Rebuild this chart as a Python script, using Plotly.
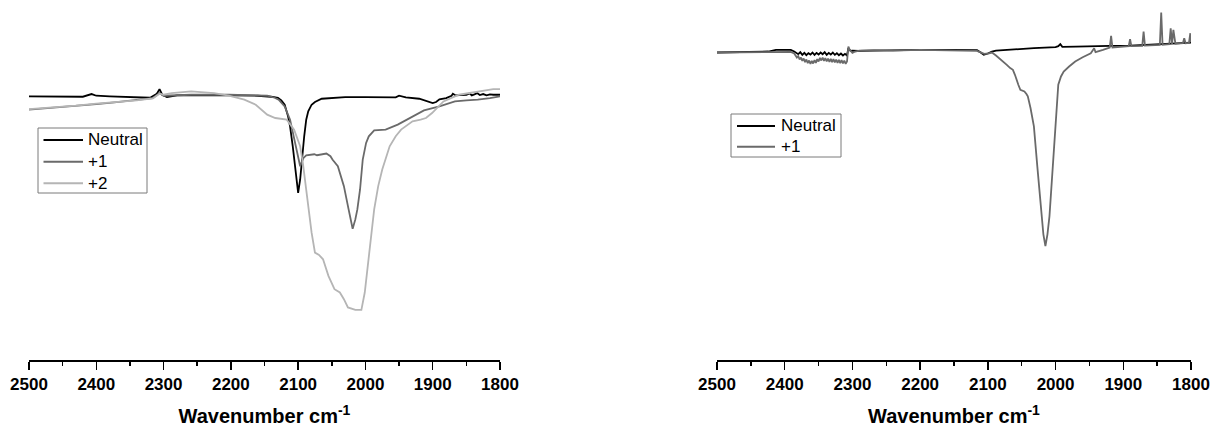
import plotly.graph_objects as go

# ---------- Left panel data (wavenumber cm^-1, transmittance a.u.) ----------
L_neutral_wn = [2500, 2450, 2420, 2407, 2400, 2380, 2340, 2320, 2310, 2306, 2302, 2295, 2280, 2250, 2200,
                2160, 2140, 2130, 2125, 2120, 2115, 2112, 2108, 2104, 2100, 2097, 2094, 2091, 2088, 2085,
                2080, 2075, 2065, 2050, 2030, 2000, 1970, 1955, 1950, 1940, 1920, 1910, 1905, 1900, 1895,
                1890, 1880, 1872, 1870, 1866, 1860, 1850, 1845, 1842, 1838, 1834, 1830, 1825, 1820, 1815,
                1810, 1805, 1800]
L_neutral_t = [100, 100, 99.9, 100.7, 100.2, 100, 99.7, 99.6, 100.8, 102.2, 100.5, 99.8, 100.3, 100.4, 100.3,
               100.2, 99.9, 99.6, 98.8, 97.5, 94, 91, 85, 78, 71, 75, 82, 88, 93, 95.5,
               97.5, 98.3, 99.3, 99.6, 99.8, 99.8, 99.6, 99.7, 100.2, 99.7, 99.3, 98.7, 98.2, 98.0, 98.3,
               99.1, 99.5, 100.2, 100.8, 100.3, 100.4, 100.5, 100.9, 100.3, 100.6, 101.0, 100.4, 100.7, 100.3, 100.6,
               100.5, 100.6, 100.5]

L_p1_wn = [2500, 2470, 2430, 2400, 2373, 2340, 2316, 2306, 2300, 2259, 2203, 2146, 2135, 2129, 2120,
           2112, 2108, 2103, 2097, 2094, 2092, 2088, 2083, 2076, 2072, 2065, 2058, 2052, 2049, 2041,
           2032, 2025, 2019, 2015, 2012, 2008, 2004, 1999, 1995, 1987, 1970, 1952, 1940, 1930, 1913,
           1890, 1867, 1850, 1833, 1815, 1800]
L_p1_t = [96, 96.5, 97, 97.7, 98.2, 98.9, 99.5, 101, 100.2, 100.5, 100.5, 100.2, 99.6, 99, 97,
          93, 89, 85, 79, 80.5, 81.5, 82.3, 82.5, 82.6, 82.3, 82.6, 82.8, 82, 81, 79,
          73, 66, 60.2, 63, 66, 72, 81, 86, 88, 89.8, 90, 91.5, 92.8, 94, 95.8,
          97, 98.5, 98.8, 99, 99.5, 100]

L_p2_wn = [2500, 2470, 2430, 2400, 2373, 2340, 2316, 2306, 2300, 2288, 2259, 2225, 2203, 2180, 2163,
           2146, 2134, 2117, 2106, 2097, 2093, 2089, 2084, 2080, 2075, 2069, 2063, 2055, 2046, 2038,
           2032, 2026, 2015, 2006, 2001, 1995, 1991, 1987, 1981, 1975, 1964, 1955, 1947, 1930, 1918,
           1910, 1901, 1884, 1861, 1833, 1810, 1800]
L_p2_t = [96.2, 96.6, 97.2, 97.8, 98.2, 98.8, 99.4, 100.8, 100.5, 101, 101.5, 101, 100.2, 99, 97.5,
          94.5, 93.5, 93, 90, 85, 80, 73, 65, 59, 53, 52.3, 51, 46, 42, 41,
          39, 36.5, 35.8, 35.8, 41, 51, 58, 66, 73, 78, 85, 88, 90, 92.5, 93,
          93.5, 95, 98.5, 100.5, 101.5, 102.2, 102.2]

# ---------- Right panel data ----------
R_neutral_wn = [2500, 2470, 2452, 2424, 2413, 2400, 2391, 2386, 2383, 2380, 2377, 2374, 2371, 2368, 2365,
                2362, 2359, 2356, 2353, 2350, 2347, 2344, 2341, 2338, 2335, 2332, 2329, 2326, 2323, 2320,
                2317, 2314, 2311, 2308, 2306, 2303, 2300, 2290, 2268, 2240, 2200, 2150, 2116, 2110, 2106,
                2100, 2094, 2088, 2060, 2032, 2000, 1996, 1993, 1990, 1970, 1948, 1920, 1890, 1864, 1840,
                1820, 1800]
R_neutral_t = [99.7, 99.8, 99.8, 100, 100.5, 100.6, 100.5, 100, 99.6, 99.2, 99.8, 99.0, 99.6, 98.9, 99.5,
               99.1, 99.7, 99.0, 99.6, 99.1, 99.7, 99.2, 99.8, 99.0, 99.6, 99.1, 99.7, 99.0, 99.5, 98.9,
               99.4, 98.8, 99.3, 98.8, 101, 100.2, 100.3, 100.2, 100.3, 100.4, 100.5, 100.5, 100.4, 99.6, 99.0,
               99.4, 100, 100.3, 100.7, 101, 101.3, 101.6, 102.2, 101.4, 101.5, 101.5, 101.7, 101.8, 102, 102.2,
               102.5, 102.7]

R_p1_wn = [2500, 2452, 2424, 2400, 2391, 2386, 2384, 2382, 2380, 2378, 2376, 2374, 2372, 2370, 2368,
           2366, 2364, 2362, 2360, 2358, 2356, 2354, 2352, 2350, 2348, 2346, 2344, 2342, 2340, 2338,
           2336, 2334, 2332, 2330, 2328, 2326, 2324, 2322, 2320, 2318, 2316, 2314, 2312, 2310, 2308,
           2306, 2304, 2300, 2296, 2290, 2268, 2240, 2200, 2150, 2116, 2108, 2105, 2100, 2094, 2088,
           2083, 2077, 2072, 2067, 2063, 2060, 2058, 2055, 2052, 2049, 2046, 2043, 2041, 2037, 2032,
           2027, 2021, 2018, 2015, 2012, 2009, 2006, 2003, 1999, 1996, 1992, 1988, 1980, 1971, 1960,
           1948, 1943, 1941, 1930, 1920, 1918, 1916, 1900, 1892, 1890, 1888, 1872, 1870, 1868, 1850,
           1846, 1844, 1842, 1832, 1830, 1828, 1826, 1823, 1812, 1810, 1808, 1803, 1801, 1800]
R_p1_t = [99.7, 99.8, 100, 100, 99.9, 99.4, 98.8, 98.2, 98.6, 97.6, 98.2, 97.2, 97.9, 96.8, 97.6,
          96.5, 97.3, 96.3, 97.2, 96.4, 97.4, 96.6, 97.7, 97.0, 98.1, 97.3, 98.2, 97.2, 98.0, 97.0,
          97.9, 96.9, 97.8, 96.8, 97.7, 96.7, 97.6, 96.6, 97.5, 96.5, 97.4, 96.4, 97.3, 96.3, 97.0,
          101.5, 100.5, 99.6, 100, 100.3, 100.4, 100.3, 100.5, 100.4, 100.2, 99.5, 99.3, 99.4, 99.7, 98.8,
          98, 97, 96, 95, 94.5, 93, 91.5, 90, 88.5, 88.3, 88, 87.2, 86.5, 83, 77.5,
          65.5, 50.5, 45, 41.5, 45, 50.5, 60, 71, 82, 90, 92.5, 94, 95.5, 97, 98.3,
          99.5, 101, 99.8, 100.5, 101.2, 104.7, 101.2, 101.5, 101.6, 103.7, 101.6, 101.7, 106, 101.8, 101.9,
          102, 111.7, 102, 102.2, 107, 102.3, 106.5, 102.3, 102.5, 104, 102.5, 102.6, 105.5, 102.8]

series_names = ["Neutral", "+1", "+2"]
series_colors = ["#000000", "#6a6a6a", "#b5b5b5"]
tick_vals = [2500, 2400, 2300, 2200, 2100, 2000, 1900, 1800]

fig = go.Figure()

left = [(L_neutral_wn, L_neutral_t), (L_p1_wn, L_p1_t), (L_p2_wn, L_p2_t)]
for i, (x, y) in enumerate(left):
    fig.add_trace(go.Scatter(x=x, y=y, mode="lines", name=series_names[i], showlegend=False,
                             line=dict(color=series_colors[i], width=1.8),
                             xaxis="x", yaxis="y"))
right = [(R_neutral_wn, R_neutral_t), (R_p1_wn, R_p1_t)]
for i, (x, y) in enumerate(right):
    fig.add_trace(go.Scatter(x=x, y=y, mode="lines", name=series_names[i], showlegend=False,
                             line=dict(color=series_colors[i], width=1.8),
                             xaxis="x2", yaxis="y2"))

font_family = "Liberation Sans, Arial, sans-serif"
W, H, B = 1211, 427, 67
PH = H - B  # plot-area height in pixels


def px(x):
    return x / W


def py(y):
    return 1 - y / PH


# ---------- legend boxes (drawn as shapes + text) ----------
shapes, annotations = [], []


def add_legend(box, rows, line_x, text_x, n):
    x0, x1, y0, y1 = box
    shapes.append(dict(type="rect", xref="paper", yref="paper", x0=px(x0), x1=px(x1), y0=py(y1), y1=py(y0),
                       line=dict(color="#7a7a7a", width=1), fillcolor="rgba(0,0,0,0)", layer="above"))
    for i in range(n):
        shapes.append(dict(type="line", xref="paper", yref="paper", x0=px(line_x[0]), x1=px(line_x[1]),
                           y0=py(rows[i]), y1=py(rows[i]), line=dict(color=series_colors[i], width=2)))
        annotations.append(dict(text=series_names[i], xref="paper", yref="paper", x=px(text_x), y=py(rows[i]),
                                xanchor="left", yanchor="middle", showarrow=False,
                                font=dict(family=font_family, size=17, color="black")))


add_legend((38, 147, 128, 193), [140, 161.7, 183.3], (43.5, 83), 85.5, 3)
add_legend((731, 841, 114, 157), [126, 146.7], (737, 775), 779, 2)

xaxis_common = dict(
    range=[2500, 1800], tickvals=tick_vals, showline=True, linecolor="black", linewidth=1.5,
    ticks="outside", ticklen=8, tickwidth=1.5, tickcolor="black",
    minor=dict(dtick=50, ticks="outside", ticklen=4, tickwidth=1.5, tickcolor="black", tick0=1800),
    showgrid=False, zeroline=False, automargin=False, ticklabeloverflow="allow",
    tickfont=dict(family=font_family, size=17, color="black", weight="bold"),
    title=dict(text="Wavenumber cm<sup>-1</sup>", font=dict(family=font_family, size=20, color="black", weight="bold"),
               standoff=17),
)

fig.update_layout(
    width=W, height=H,
    margin=dict(l=0, r=0, t=0, b=B, autoexpand=False),
    paper_bgcolor="white", plot_bgcolor="white",
    showlegend=False,
    xaxis=dict(domain=[29 / W, 500 / W], anchor="y", **xaxis_common),
    xaxis2=dict(domain=[717 / W, 1191 / W], anchor="y2", **xaxis_common),
    yaxis=dict(range=[20.7, 129], visible=False, domain=[0, 1]),
    yaxis2=dict(range=[7.2, 115.5], visible=False, domain=[0, 1]),
    shapes=shapes,
    annotations=annotations,
)

fig.write_html("out.html", config={"displayModeBar": False, "staticPlot": True},
               post_script="document.body.style.margin='0px';document.body.style.padding='0px';")
